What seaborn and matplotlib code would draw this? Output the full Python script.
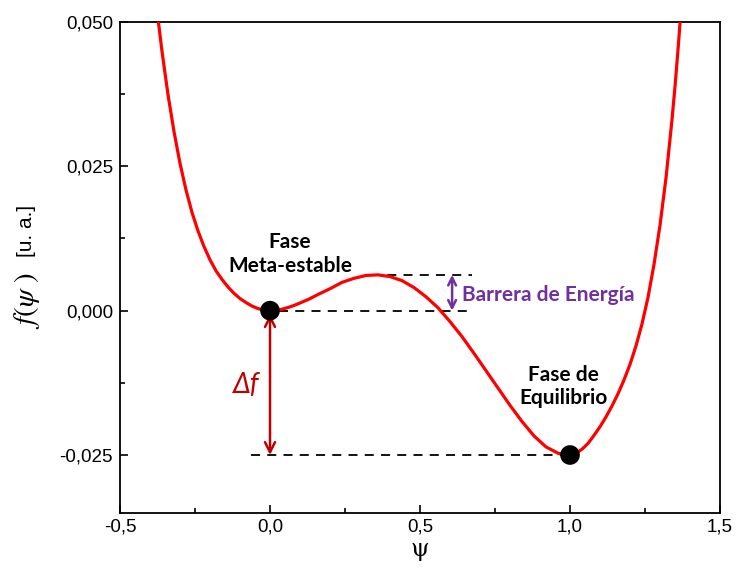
import matplotlib
matplotlib.use("Agg")
import matplotlib.pyplot as plt
import seaborn as sns
import pandas as pd

# ---- data ----
psi = [-0.372, -0.36, -0.34, -0.32, -0.30, -0.28, -0.26, -0.24, -0.22, -0.20,
       -0.18, -0.16, -0.14, -0.12, -0.10, -0.08, -0.06, -0.04, -0.02, 0.00,
       0.02, 0.04, 0.06, 0.08, 0.10, 0.13, 0.16, 0.20, 0.24, 0.28,
       0.32, 0.36, 0.40, 0.44, 0.48, 0.52, 0.56, 0.60, 0.64, 0.68,
       0.72, 0.76, 0.80, 0.84, 0.88, 0.92, 0.96, 1.00, 1.02, 1.04,
       1.06, 1.08, 1.10, 1.12, 1.14, 1.16, 1.18, 1.20, 1.22, 1.24,
       1.26, 1.28, 1.30, 1.32, 1.34, 1.35, 1.36, 1.367]
f_psi = [0.0500, 0.0449, 0.0374, 0.0310, 0.0255, 0.0209, 0.0170, 0.0138, 0.0111, 0.0088,
         0.0069, 0.0054, 0.0041, 0.0030, 0.0021, 0.0014, 0.0008, 0.00036, 0.0001, 0.0000,
         0.00007, 0.00025, 0.00054, 0.0009, 0.00133, 0.0020, 0.0028, 0.0038, 0.0049, 0.0056,
         0.0061, 0.0062, 0.0059, 0.0052, 0.0040, 0.0024, 0.0005, -0.0019, -0.0045, -0.0074,
         -0.0104, -0.0134, -0.0164, -0.0192, -0.0217, -0.0236, -0.0247, -0.0250, -0.0247, -0.0240,
         -0.0230, -0.0216, -0.0201, -0.0184, -0.0165, -0.0144, -0.0120, -0.0093, -0.0061, -0.0023,
         0.0023, 0.0080, 0.0148, 0.0230, 0.0331, 0.0388, 0.0452, 0.0500]

phase_psi = [0.0, 1.0]          # meta-stable and equilibrium phases
phase_f = [0.0, -0.025]
barrier_top = 0.0062            # top of the energy barrier

xticks = [-0.5, 0.0, 0.5, 1.0, 1.5]
xtick_labels = ["-0,5", "0,0", "0,5", "1,0", "1,5"]
yticks = [-0.025, 0.0, 0.025, 0.050]
ytick_labels = ["-0,025", "0,000", "0,025", "0,050"]

curve = pd.DataFrame({"psi": psi, "f": f_psi})
phases = pd.DataFrame({"psi": phase_psi, "f": phase_f})

sns.set_style("ticks")
plt.rcParams["font.family"] = ["Liberation Sans", "DejaVu Sans"]
plt.rcParams["mathtext.fontset"] = "stix"
plt.rcParams["text.color"] = "black"
plt.rcParams["axes.labelcolor"] = "black"

fig = plt.figure(figsize=(7.39, 5.77), dpi=100)
ax = fig.add_axes([0.1624, 0.1114, 0.8119, 0.8505])

sns.lineplot(data=curve, x="psi", y="f", color="#ff0000", lw=2.3, sort=False, ax=ax, zorder=3)

# dashed guide lines
dash = dict(color="black", lw=1.3, ls=(0, (5, 4)), zorder=2)
ax.plot([0.336, 0.673], [barrier_top, barrier_top], **dash)
ax.plot([0.03, 0.673], [phase_f[0], phase_f[0]], **dash)
ax.plot([-0.064, phase_psi[1]], [phase_f[1], phase_f[1]], **dash)

sns.scatterplot(data=phases, x="psi", y="f", color="black", s=200, edgecolor="none",
                ax=ax, zorder=5, legend=False)

# Delta f arrow
ax.annotate("", xy=(0.0, phase_f[1]), xytext=(0.0, -0.0006),
            arrowprops=dict(arrowstyle="<->", color="#c00000", lw=1.8,
                            mutation_scale=18, shrinkA=0, shrinkB=0), zorder=4)
ax.text(-0.078, -0.0128, "Δf", color="#c00000", fontsize=20, style="italic",
        family="Lato", ha="center", va="center")

# energy barrier arrow
ax.annotate("", xy=(0.607, barrier_top), xytext=(0.607, 0.0),
            arrowprops=dict(arrowstyle="<->", color="#7030a0", lw=1.8,
                            mutation_scale=14, shrinkA=0, shrinkB=0), zorder=4)
ax.text(0.64, 0.0027, "Barrera de Energía", color="#7030a0", fontsize=15,
        family="Lato", weight="bold", ha="left", va="center")

ax.text(0.067, 0.0098, "Fase\nMeta-estable", fontsize=15, family="Lato", weight="bold",
        ha="center", va="center", linespacing=1.3, color="black")
ax.text(0.977, -0.0132, "Fase de\nEquilibrio", fontsize=15, family="Lato", weight="bold",
        ha="center", va="center", linespacing=1.2, color="black")

ax.set_xlim(-0.5, 1.5)
ax.set_ylim(-0.035, 0.050)
ax.set_xticks(xticks, xtick_labels)
ax.set_yticks(yticks, ytick_labels)
ax.set_xticks([-0.25, 0.25, 0.75, 1.25], minor=True)
ax.set_yticks([-0.0125, 0.0125, 0.0375], minor=True)
ax.tick_params(which="both", direction="in", width=1.2, labelsize=13.5, colors="black")
ax.tick_params(axis="x", which="major", length=6, pad=4)
ax.tick_params(axis="y", which="major", length=6, pad=5)
ax.tick_params(which="minor", length=3.5)
for sp in ax.spines.values():
    sp.set_visible(True)
    sp.set_linewidth(1.3)
    sp.set_color("black")

ax.set_xlabel("ψ", fontsize=17, family="DejaVu Serif", labelpad=2, color="black")
ax.set_ylabel("")

fig.text(0.037, 0.478, r"$f(\psi\ )$", rotation=90, fontsize=21, ha="center", va="center")
fig.text(0.036, 0.6, "[u. a.]", rotation=90, fontsize=15, ha="center", va="center")

fig.savefig("out.png", dpi=100)
